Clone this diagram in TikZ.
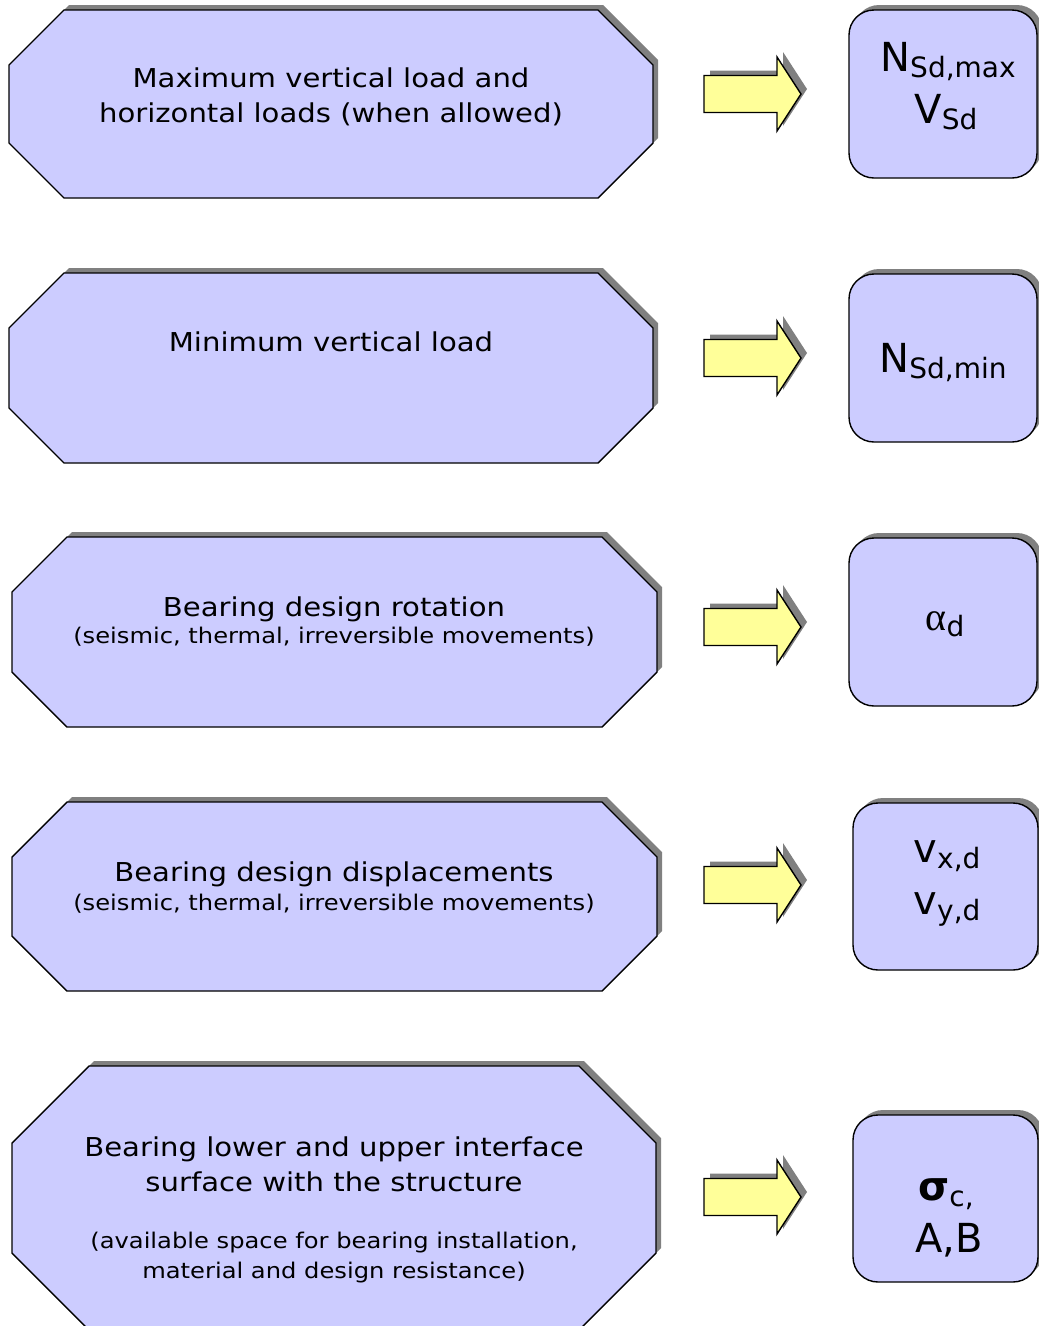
\documentclass[tikz,border=0pt]{standalone}
\usepackage{fontspec}
\setmainfont[FakeStretch=1.12]{DejaVu Sans}
\newfontfamily\resfont{DejaVu Sans}
\newfontfamily\symfont{Liberation Serif}
\newcommand\octpath[5]{({#1+#5},#2) -- ({#3-#5},#2) -- (#3,{#2+#5}) -- (#3,{#4-#5}) -- ({#3-#5},#4) -- ({#1+#5},#4) -- (#1,{#4-#5}) -- (#1,{#2+#5}) -- cycle}
\newcommand\arrpath[2]{(#1,{#2-18.5}) -- ({#1+73},{#2-18.5}) -- ({#1+73},{#2-37}) -- ({#1+97},#2) -- ({#1+73},{#2+37}) -- ({#1+73},{#2+18.5}) -- (#1,{#2+18.5}) -- cycle}
\newcommand\bigt{\resfont\fontsize{40}{48}\selectfont}
\newcommand\sbs[1]{\raisebox{-6pt}{\resfont\fontsize{28}{30}\selectfont #1}}
\definecolor{boxfill}{HTML}{CCCCFF}
\definecolor{arrfill}{HTML}{FFFF99}
\definecolor{shade}{HTML}{808080}
\tikzset{
  shadowfill/.style={fill=shade, draw=none},
  octbox/.style={fill=boxfill, draw=black, line width=1.4pt, line join=miter},
  blockarrow/.style={fill=arrfill, draw=black, line width=1.4pt, line join=miter},
  resbox/.style={fill=boxfill, draw=black, line width=1.4pt, rounded corners=25pt},
  maintext/.style={anchor=base, font=\fontsize{26}{30}\selectfont, inner sep=0pt},
  subtext/.style={anchor=base, font=\fontsize{21.6}{25}\selectfont, inner sep=0pt},
  restext/.style={anchor=base, inner sep=0pt, align=center}
}
\begin{document}
\begin{tikzpicture}[x=1pt,y=-1pt]
\useasboundingbox (0,0) rectangle (1039,1326);
\begin{scope}
\clip (0,0) rectangle (1039,1326);
% ---------- octagons ----------
\fill[shadowfill,shift={(5,-5)}] \octpath{9}{10}{653}{198}{55};
\filldraw[octbox] \octpath{9}{10}{653}{198}{55};
\fill[shadowfill,shift={(5,-5)}] \octpath{9}{273}{653}{463}{55};
\filldraw[octbox] \octpath{9}{273}{653}{463}{55};
\fill[shadowfill,shift={(5,-5)}] \octpath{12}{537}{657}{727}{55};
\filldraw[octbox] \octpath{12}{537}{657}{727}{55};
\fill[shadowfill,shift={(5,-5)}] \octpath{12}{802}{657}{991}{55};
\filldraw[octbox] \octpath{12}{802}{657}{991}{55};
\fill[shadowfill,shift={(5,-5)}] \octpath{12}{1066}{656}{1330}{77};
\filldraw[octbox] \octpath{12}{1066}{656}{1330}{77};
% ---------- arrows ----------
\foreach \yy in {94,358,627,885,1197}{
  \fill[shadowfill,shift={(6,-5)}] \arrpath{704}{\yy};
  \filldraw[blockarrow] \arrpath{704}{\yy};
}
% ---------- result boxes ----------
\fill[shadowfill,rounded corners=25pt] (854,5) rectangle (1042,173);
\filldraw[resbox] (849,10) rectangle (1037,178);
\fill[shadowfill,rounded corners=25pt] (854,269) rectangle (1042,437);
\filldraw[resbox] (849,274) rectangle (1037,442);
\fill[shadowfill,rounded corners=25pt] (854,533) rectangle (1042,701);
\filldraw[resbox] (849,538) rectangle (1037,706);
\fill[shadowfill,rounded corners=25pt] (858,798) rectangle (1043,965);
\filldraw[resbox] (853,803) rectangle (1038,970);
\fill[shadowfill,rounded corners=25pt] (858,1110) rectangle (1043,1277);
\filldraw[resbox] (853,1115) rectangle (1038,1282);
\end{scope}
% ---------- texts ----------
\node[maintext] (t1a) at (331,87) {Maximum vertical load and};
\node[maintext] (t1b) at (331,122) {horizontal loads (when allowed)};
\node[maintext] (t2) at (331,351) {Minimum vertical load};
\node[maintext] (t3a) at (334,616) {Bearing design rotation};
\node[subtext] (t3b) at (334,643) {(seismic, thermal, irreversible movements)};
\node[maintext] (t4a) at (334,881) {Bearing design displacements};
\node[subtext] (t4b) at (334,910) {(seismic, thermal, irreversible movements)};
\node[maintext] (t5a) at (334,1156) {Bearing lower and upper interface};
\node[maintext] (t5b) at (334,1191) {surface with the structure};
\node[subtext] (t5c) at (334,1248) {(available space for bearing installation,};
\node[subtext] (t5d) at (334,1278) {material and design resistance)};
% ---------- results ----------
\node[restext] (r1a) at (948,71) {\bigt N\sbs{Sd,max}};
\node[restext] (r1b) at (946,123) {\bigt V\sbs{Sd}};
\node[restext] (r2) at (943,372) {\bigt N\sbs{Sd,min}};
\node[restext] (r3) at (945,630) {{\fontsize{40}{48}\symfont\selectfont α}\sbs{d}};
\node[restext] (r4a) at (947,862) {\bigt v\sbs{x,d}};
\node[restext] (r4b) at (947,914) {\bigt v\sbs{y,d}};
\node[restext] (r5a) at (946,1200) {{\bigt\bfseries σ}\sbs{c,}};
\node[restext] (r5b) at (949,1252) {\bigt A,B};
\end{tikzpicture}
\end{document}
